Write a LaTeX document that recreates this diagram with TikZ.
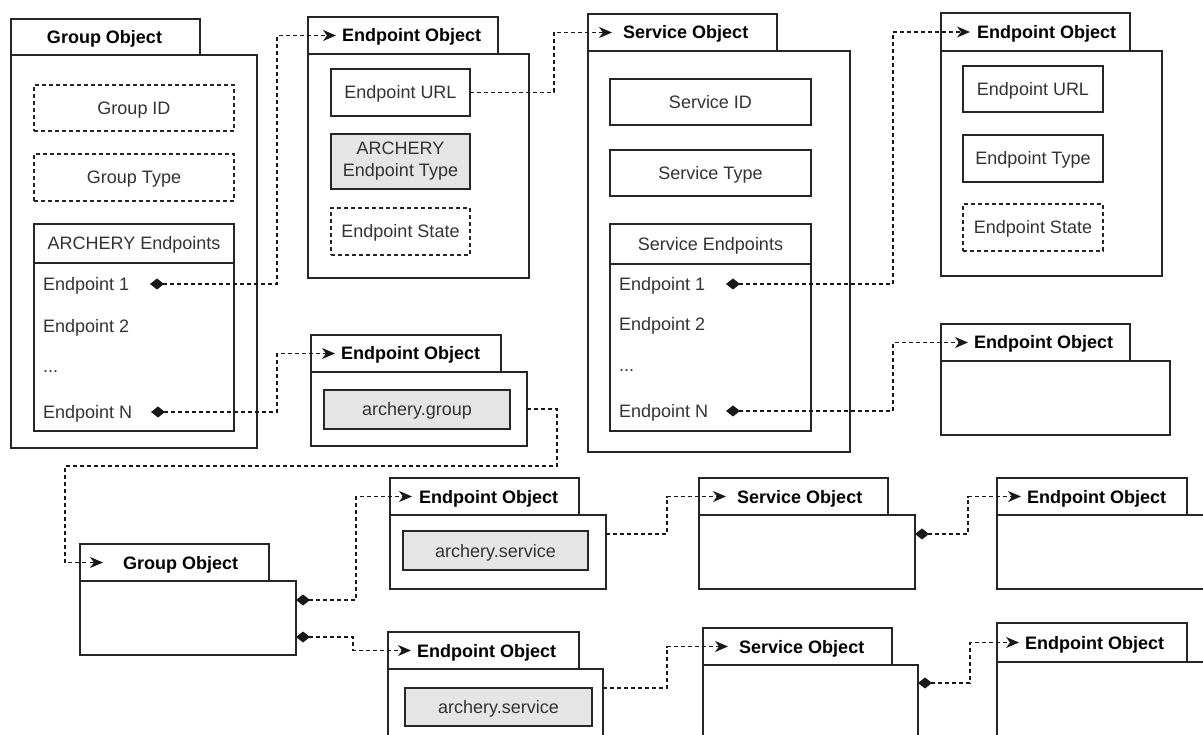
\documentclass[tikz,border=0pt]{standalone}
\usepackage{fontspec}
\setmainfont{Liberation Sans}
\usetikzlibrary{arrows.meta,calc}
\begin{document}
\begin{tikzpicture}[x=1pt,y=-1pt,
  font=\fontsize{18}{22}\selectfont,
  bx/.style={draw=black!85, line width=1.6pt, rectangle, inner sep=0pt, outer sep=0pt, anchor=north west, fill=white},
  dbx/.style={bx, dash pattern=on 4pt off 3pt},
  gbx/.style={bx, fill=black!10},
  ttl/.style={font=\fontsize{18}{22}\selectfont\bfseries, text=black, inner sep=0pt, text height=13pt, text depth=0pt},
  txt/.style={text=black!80, text height=13pt, text depth=0pt},
  conn/.style={draw=black!90, line width=1.2pt, dash pattern=on 4pt off 3pt},
  arr/.style={-{Stealth[length=13pt,width=11pt,inset=4pt]}},
  diarr/.style={{Diamond[length=14pt,width=11pt]}-{Stealth[length=13pt,width=11pt,inset=4pt]}}
]
\useasboundingbox (0,0) rectangle (1203,735);
\clip (0,0) rectangle (1203,735);
\fill[white] (0,0) rectangle (1203,735);

% ---------- Group Object (top left)
\node[bx, minimum width=189pt, minimum height=36pt] (GO1tab) at (11,19) {};
\node[bx, minimum width=246pt, minimum height=393pt] (GO1body) at (11,55) {};
\node[ttl] (GO1t) at ([xshift=-1pt]GO1tab.center) {Group Object};
\node[dbx, txt, minimum width=200pt, minimum height=46pt] (gid) at (34,85) {Group ID};
\node[dbx, txt, minimum width=200pt, minimum height=47pt] (gtype) at (34,154) {Group Type};
\node[bx, txt, minimum width=200pt, minimum height=39pt] (glh) at (34,224) {ARCHERY Endpoints};
\node[bx, minimum width=200pt, minimum height=168pt] (glb) at (34,263) {};
\node[txt, inner sep=0pt, anchor=west] (ge1) at ($(glb.north west)+(9,21)$) {Endpoint 1};
\node[txt, inner sep=0pt, anchor=west] (ge2) at ($(glb.north west)+(9,63)$) {Endpoint 2};
\node[txt, inner sep=0pt, anchor=west] (gdots) at ($(glb.north west)+(9,103)$) {...};
\node[txt, inner sep=0pt, anchor=west] (geN) at ($(glb.north west)+(9,149)$) {Endpoint N};

% ---------- Endpoint Object (top, 2nd)
\node[bx, minimum width=190pt, minimum height=37pt] (EO1tab) at (308,17) {};
\node[bx, minimum width=221pt, minimum height=224pt] (EO1body) at (308,54) {};
\node[ttl, anchor=west] (EO1t) at ([xshift=34pt]EO1tab.west) {Endpoint Object};
\node[bx, txt, minimum width=139pt, minimum height=47pt] (eurl) at (331,69) {Endpoint URL};
\node[gbx, align=center, text=black!80, minimum width=139pt, minimum height=55pt] (etype) at (331,134) {ARCHERY\\Endpoint Type};
\node[dbx, txt, minimum width=139pt, minimum height=47pt] (estate) at (331,208) {Endpoint State};

% ---------- Service Object (top)
\node[bx, minimum width=189pt, minimum height=37pt] (SOtab) at (588,14) {};
\node[bx, minimum width=262pt, minimum height=401pt] (SObody) at (588,51) {};
\node[ttl, anchor=west] (SOt) at ([xshift=35pt]SOtab.west) {Service Object};
\node[bx, txt, minimum width=201pt, minimum height=46pt] (sid) at (610,79) {Service ID};
\node[bx, txt, minimum width=201pt, minimum height=46pt] (stype) at (610,150) {Service Type};
\node[bx, txt, minimum width=201pt, minimum height=40pt] (slh) at (610,224) {Service Endpoints};
\node[bx, minimum width=201pt, minimum height=167pt] (slb) at (610,264) {};
\node[txt, inner sep=0pt, anchor=west] (se1) at ($(slb.north west)+(9,20)$) {Endpoint 1};
\node[txt, inner sep=0pt, anchor=west] (se2) at ($(slb.north west)+(9,60)$) {Endpoint 2};
\node[txt, inner sep=0pt, anchor=west] (sdots) at ($(slb.north west)+(9,101)$) {...};
\node[txt, inner sep=0pt, anchor=west] (seN) at ($(slb.north west)+(9,147)$) {Endpoint N};

% ---------- Endpoint Object (top right)
\node[bx, minimum width=189pt, minimum height=38pt] (EO2tab) at (941,13) {};
\node[bx, minimum width=221pt, minimum height=225pt] (EO2body) at (941,51) {};
\node[ttl, anchor=west] (EO2t) at ([xshift=36pt]EO2tab.west) {Endpoint Object};
\node[bx, txt, minimum width=140pt, minimum height=46pt] (e2url) at (963,66) {Endpoint URL};
\node[bx, txt, minimum width=140pt, minimum height=47pt] (e2type) at (963,135) {Endpoint Type};
\node[dbx, txt, minimum width=140pt, minimum height=47pt] (e2state) at (963,204) {Endpoint State};

% ---------- Endpoint Object (right, 2nd)
\node[bx, minimum width=189pt, minimum height=37pt] (EO3tab) at (941,324) {};
\node[bx, minimum width=229pt, minimum height=74pt] (EO3body) at (941,361) {};
\node[ttl, anchor=west] (EO3t) at ([xshift=33pt]EO3tab.west) {Endpoint Object};

% ---------- Endpoint Object (archery.group)
\node[bx, minimum width=190pt, minimum height=37pt] (EO4tab) at (311,335) {};
\node[bx, minimum width=216pt, minimum height=74pt] (EO4body) at (311,372) {};
\node[ttl, anchor=west] (EO4t) at ([xshift=30pt]EO4tab.west) {Endpoint Object};
\node[gbx, txt, minimum width=186pt, minimum height=39pt] (agroup) at (324,390) {archery.group};

% ---------- Group Object (bottom)
\node[bx, minimum width=189pt, minimum height=37pt] (GO2tab) at (80,544) {};
\node[bx, minimum width=216pt, minimum height=74pt] (GO2body) at (80,581) {};
\node[ttl, anchor=west] (GO2t) at ([xshift=43pt]GO2tab.west) {Group Object};

% ---------- Endpoint Objects (archery.service)
\node[bx, minimum width=189pt, minimum height=37pt] (EO5tab) at (390,478) {};
\node[bx, minimum width=216pt, minimum height=74pt] (EO5body) at (390,515) {};
\node[ttl, anchor=west] (EO5t) at ([xshift=29pt]EO5tab.west) {Endpoint Object};
\node[gbx, txt, minimum width=185pt, minimum height=39pt] (asvc1) at (403,531) {archery.service};

\node[bx, minimum width=191pt, minimum height=37pt] (EO6tab) at (388,632) {};
\node[bx, minimum width=215pt, minimum height=100pt] (EO6body) at (388,669) {};
\node[ttl, anchor=west] (EO6t) at ([xshift=29pt]EO6tab.west) {Endpoint Object};
\node[gbx, txt, minimum width=187pt, minimum height=38pt] (asvc2) at (405,688) {archery.service};

% ---------- Service Objects (bottom)
\node[bx, minimum width=189pt, minimum height=37pt] (SO2tab) at (699,478) {};
\node[bx, minimum width=216pt, minimum height=74pt] (SO2body) at (699,515) {};
\node[ttl, anchor=west] (SO2t) at ([xshift=38pt]SO2tab.west) {Service Object};

\node[bx, minimum width=189pt, minimum height=37pt] (SO3tab) at (703,628) {};
\node[bx, minimum width=215pt, minimum height=100pt] (SO3body) at (703,665) {};
\node[ttl, anchor=west] (SO3t) at ([xshift=36pt]SO3tab.west) {Service Object};

% ---------- Endpoint Objects (bottom right)
\node[bx, minimum width=190pt, minimum height=37pt] (EO7tab) at (997,478) {};
\node[bx, minimum width=240pt, minimum height=74pt] (EO7body) at (997,515) {};
\node[ttl, anchor=west] (EO7t) at ([xshift=30pt]EO7tab.west) {Endpoint Object};

\node[bx, minimum width=190pt, minimum height=39pt] (EO8tab) at (997,623) {};
\node[bx, minimum width=240pt, minimum height=100pt] (EO8body) at (997,662) {};
\node[ttl, anchor=west] (EO8t) at ([xshift=28pt]EO8tab.west) {Endpoint Object};

% ---------- arrow entry points
\coordinate (EO1in) at ([xshift=28pt]EO1tab.west);
\coordinate (SOin)  at ([xshift=24pt]SOtab.west);
\coordinate (EO2in) at ([xshift=29pt]EO2tab.west);
\coordinate (EO3in) at ([xshift=27pt]EO3tab.west);
\coordinate (EO4in) at ([xshift=24pt]EO4tab.west);
\coordinate (GO2in) at ([xshift=23pt]GO2tab.west);
\coordinate (EO5in) at ([xshift=22pt]EO5tab.west);
\coordinate (EO6in) at ([xshift=23pt]EO6tab.west);
\coordinate (SO2in) at ([xshift=27pt]SO2tab.west);
\coordinate (SO3in) at ([xshift=25pt]SO3tab.west);
\coordinate (EO7in) at ([xshift=24pt]EO7tab.west);
\coordinate (EO8in) at ([xshift=22pt]EO8tab.west);

% ---------- diamond start points
\coordinate (gd1) at ($(ge1.west)+(107,0)$);
\coordinate (gdN) at ($(geN.west)+(108,0)$);
\coordinate (sd1) at ($(se1.west)+(107,0)$);
\coordinate (sdN) at ($(seN.west)+(107,0)$);
\coordinate (god1) at ($(GO2body.east)+(0,-18)$);
\coordinate (god2) at ($(GO2body.east)+(0,19)$);
\coordinate (sod2) at ($(SO2body.north east)+(0,19)$);
\coordinate (sod3) at ($(SO3body.north east)+(0,18)$);

% ---------- connectors
\draw[conn, diarr] (gd1) -| ([xshift=-59pt]EO1in) -- (EO1in);
\draw[conn, diarr] (gdN) -| ([xshift=-58pt]EO4in) -- (EO4in);
\draw[conn, arr] (eurl.east) -| ([xshift=-58pt]SOin) -- (SOin);
\draw[conn, diarr] (sd1) -| ([xshift=-77pt]EO2in) -- (EO2in);
\draw[conn, diarr] (sdN) -| ([xshift=-75pt]EO3in) -- (EO3in);
\draw[conn, arr] (EO4body.east) -- ++(30,0) -- ++(0,57) -| ([xshift=-38pt]GO2in) -- (GO2in);
\draw[conn, diarr] (god1) -| ([xshift=-56pt]EO5in) -- (EO5in);
\draw[conn, diarr] (god2) -| ([xshift=-58pt]EO6in) -- (EO6in);
\draw[conn, arr] ($(EO5body.north east)+(0,19)$) -| ([xshift=-59pt]SO2in) -- (SO2in);
\draw[conn, arr] ($(EO6body.north east)+(0,19)$) -| ([xshift=-61pt]SO3in) -- (SO3in);
\draw[conn, diarr] (sod2) -| ([xshift=-53pt]EO7in) -- (EO7in);
\draw[conn, diarr] (sod3) -| ([xshift=-49pt]EO8in) -- (EO8in);
\end{tikzpicture}
\end{document}
